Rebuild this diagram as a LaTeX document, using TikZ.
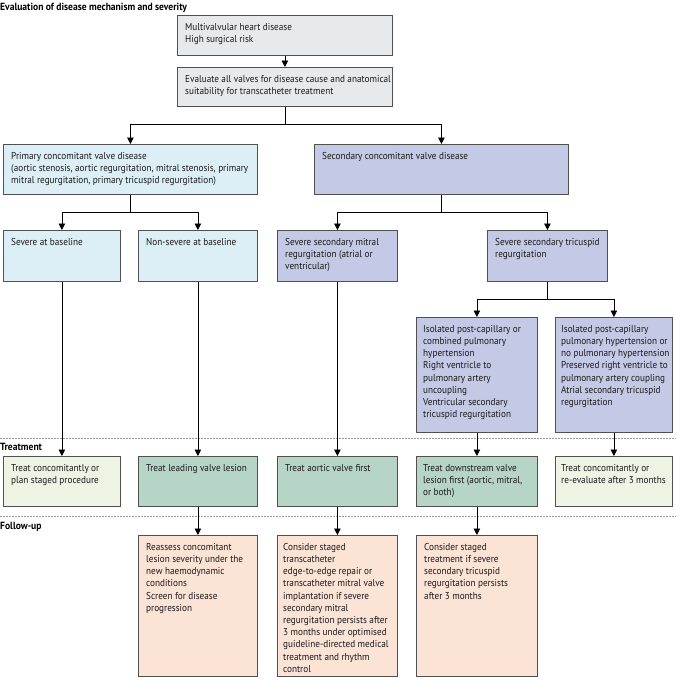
\documentclass[tikz,border=0pt]{standalone}
\usepackage{fontspec}
\setmainfont{PT Sans}[FakeStretch=0.92]
\usetikzlibrary{arrows.meta}
\definecolor{greyc}{HTML}{E7E9EB}
\definecolor{bluec}{HTML}{DCEEF6}
\definecolor{lavc}{HTML}{C4CAE5}
\definecolor{tealc}{HTML}{B6D5C7}
\definecolor{creamc}{HTML}{EFF3E4}
\definecolor{salmc}{HTML}{FBE3D6}
\definecolor{edgec}{HTML}{505050}
\begin{document}
\begin{tikzpicture}[x=1pt,y=-1pt,
  box/.style={draw=edgec, line width=0.8pt, inner sep=0pt, anchor=north west},
  txt/.style={anchor=north west, align=left, inner sep=0pt, font=\fontsize{10}{12.2}\selectfont, text=black!90},
  hdr/.style={anchor=west, inner sep=0pt, font=\fontsize{10.4}{12}\selectfont\bfseries},
  arr/.style={draw=black, line width=0.8pt, -{Triangle[length=6.5pt,width=6.5pt]}},
  sep/.style={draw=gray!80, line width=0.6pt, dash pattern=on 1.5pt off 1.5pt}]
\useasboundingbox (0,0) rectangle (676,680);

\node[hdr] (h1) at (0,8) {Evaluation of disease mechanism and severity};

% top
\node[box, fill=greyc, minimum width=215, minimum height=40] (b1) at (177,15) {};
\node[txt] (b1t) at ([shift={(8,8.5)}]b1.north west) {Multivalvular heart disease\\High surgical risk};
\node[box, fill=greyc, minimum width=215, minimum height=39] (b2) at (177,67) {};
\node[txt] (b2t) at ([shift={(8,8.5)}]b2.north west) {Evaluate all valves for disease cause and anatomical\\suitability for transcatheter treatment};

% level 2
\node[box, fill=bluec, minimum width=254, minimum height=50] (prim) at (3,144) {};
\node[txt] (primt) at ([shift={(8,8)}]prim.north west) {Primary concomitant valve disease\\(aortic stenosis, aortic regurgitation, mitral stenosis, primary\\mitral regurgitation, primary tricuspid regurgitation)};
\node[box, fill=lavc, minimum width=254, minimum height=50] (sec) at (314,144) {};
\node[txt] (sect) at ([shift={(8,8)}]sec.north west) {Secondary concomitant valve disease};

% level 3
\node[box, fill=bluec, minimum width=117, minimum height=51] (r1) at (3,230) {};
\node[txt] (r1t) at ([shift={(8,8)}]r1.north west) {Severe at baseline};
\node[box, fill=bluec, minimum width=119, minimum height=51] (r2) at (138,230) {};
\node[txt] (r2t) at ([shift={(8,8)}]r2.north west) {Non-severe at baseline};
\node[box, fill=lavc, minimum width=120, minimum height=51] (r3) at (277,230) {};
\node[txt] (r3t) at ([shift={(8,8)}]r3.north west) {Severe secondary mitral\\regurgitation (atrial or\\ventricular)};
\node[box, fill=lavc, minimum width=120, minimum height=51] (r4) at (487,230) {};
\node[txt] (r4t) at ([shift={(8,8)}]r4.north west) {Severe secondary tricuspid\\regurgitation};

% level 4
\node[box, fill=lavc, minimum width=121, minimum height=115] (i1) at (416,317) {};
\node[txt] (i1t) at ([shift={(7,8)}]i1.north west) {Isolated post-capillary or\\combined pulmonary\\hypertension\\Right ventricle to\\pulmonary artery\\uncoupling\\Ventricular secondary\\tricuspid regurgitation};
\node[box, fill=lavc, minimum width=117, minimum height=115] (i2) at (555,317) {};
\node[txt] (i2t) at ([shift={(6,8)}]i2.north west) {Isolated post-capillary\\pulmonary hypertension or\\no pulmonary hypertension\\Preserved right ventricle to\\pulmonary artery coupling\\Atrial secondary tricuspid\\regurgitation};

% treatment
\draw[sep] (0,438) coordinate (s1a) -- (676,438) coordinate (s1b);
\node[hdr] (h2) at (0,447) {Treatment};
\node[box, fill=creamc, minimum width=117, minimum height=50] (t1) at (3,456) {};
\node[txt] (t1t) at ([shift={(8,8)}]t1.north west) {Treat concomitantly or\\plan staged procedure};
\node[box, fill=tealc, minimum width=119, minimum height=50] (t2) at (138,456) {};
\node[txt] (t2t) at ([shift={(8,8)}]t2.north west) {Treat leading valve lesion};
\node[box, fill=tealc, minimum width=120, minimum height=50] (t3) at (277,456) {};
\node[txt] (t3t) at ([shift={(8,8)}]t3.north west) {Treat aortic valve first};
\node[box, fill=tealc, minimum width=121, minimum height=50] (t4) at (416,456) {};
\node[txt] (t4t) at ([shift={(7,8)}]t4.north west) {Treat downstream valve\\lesion first (aortic, mitral,\\or both)};
\node[box, fill=creamc, minimum width=117, minimum height=50] (t5) at (555,456) {};
\node[txt] (t5t) at ([shift={(6,8)}]t5.north west) {Treat concomitantly or\\re-evaluate after 3 months};

% follow-up
\draw[sep] (0,516) coordinate (s2a) -- (676,516) coordinate (s2b);
\node[hdr] (h3) at (0,527) {Follow-up};
\node[box, fill=salmc, minimum width=119, minimum height=141] (f1) at (138,535) {};
\node[txt] (f1t) at ([shift={(8,8)}]f1.north west) {Reassess concomitant\\lesion severity under the\\new haemodynamic\\conditions\\Screen for disease\\progression};
\node[box, fill=salmc, minimum width=120, minimum height=141] (f2) at (277,535) {};
\node[txt] (f2t) at ([shift={(6,8)}]f2.north west) {Consider staged\\transcatheter\\edge-to-edge repair or\\transcatheter mitral valve\\implantation if severe\\secondary mitral\\regurgitation persists after\\3 months under optimised\\guideline-directed medical\\treatment and rhythm\\control};
\node[box, fill=salmc, minimum width=121, minimum height=141] (f3) at (416,535) {};
\node[txt] (f3t) at ([shift={(8,8)}]f3.north west) {Consider staged\\treatment if severe\\secondary tricuspid\\regurgitation persists\\after 3 months};

% connectors
\draw[arr] (b1.south) -- (b2.north);
\draw[arr] (b2.south) -- ++(0,18) -| (prim.north);
\draw[arr] (b2.south) -- ++(0,18) -| (sec.north);
\draw[arr] (prim.south) -- ++(0,18) -| (r1.north);
\draw[arr] (prim.south) -- ++(0,18) -| (r2.north);
\draw[arr] (sec.south) -- ++(0,18) -| (r3.north);
\draw[arr] (sec.south) -- ++(0,18) -| (r4.north);
\draw[arr] (r4.south) -- ++(0,18) -| (i1.north);
\draw[arr] (r4.south) -- ++(0,18) -| (i2.north);
\draw[arr] (r1.south) -- (t1.north);
\draw[arr] (r2.south) -- (t2.north);
\draw[arr] (r3.south) -- (t3.north);
\draw[arr] (i1.south) -- (t4.north);
\draw[arr] (i2.south) -- (t5.north);
\draw[arr] (t2.south) -- (f1.north);
\draw[arr] (t3.south) -- (f2.north);
\draw[arr] (t4.south) -- (f3.north);
\end{tikzpicture}
\end{document}
